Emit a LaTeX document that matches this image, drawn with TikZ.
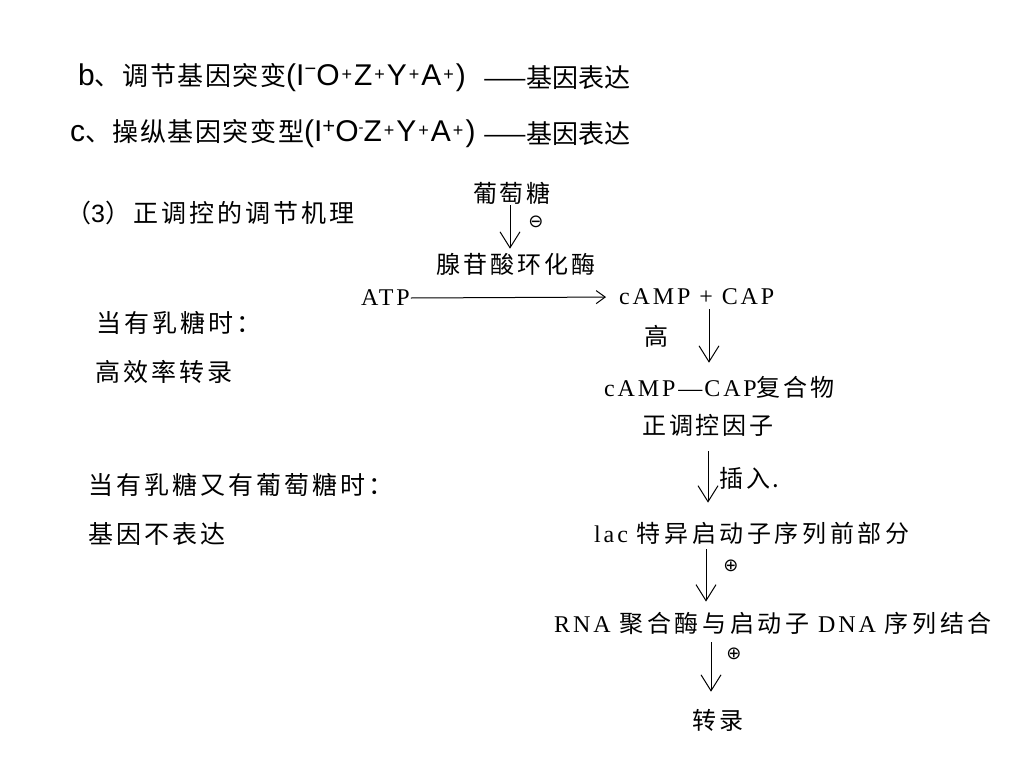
\documentclass[tikz,border=0pt]{standalone}
\usepackage{fontspec}
\setmainfont{Noto Sans CJK SC}
\newfontfamily\arial{Liberation Sans}
\newfontfamily\tms[LetterSpace=12]{Liberation Serif}
\newfontfamily\cjkh[LetterSpace=6]{Noto Sans CJK SC}
\newfontfamily\cjka[LetterSpace=12]{Noto Sans CJK SC}
\newfontfamily\cjkb[LetterSpace=15]{Noto Sans CJK SC}
\newfontfamily\cjkl[LetterSpace=12]{Noto Sans CJK SC}
\newfontfamily\dv{DejaVu Sans}
\newcommand{\sps}[1]{\hspace{2pt}\raisebox{5pt}{\arial\fontsize{18pt}{18pt}\selectfont #1}\hspace{2pt}}
\newcommand{\lat}{\arial\fontsize{30pt}{32pt}\selectfont}
\usetikzlibrary{arrows.meta}
\begin{document}
\begin{tikzpicture}[x=1pt,y=-1pt,
  hd/.style={inner sep=0pt, anchor=west, font=\cjkh\fontsize{26pt}{30pt}\selectfont},
  hde/.style={inner sep=0pt, anchor=west, font=\fontsize{26pt}{30pt}\selectfont},
  ltw/.style={inner sep=0pt, anchor=west, font=\cjkl\fontsize{25pt}{30pt}\selectfont},
  dg/.style={inner sep=1pt, font=\cjka\fontsize{24pt}{28pt}\selectfont},
  dgw/.style={inner sep=1pt, font=\cjkb\fontsize{24pt}{28pt}\selectfont},
  sym/.style={inner sep=0pt, font=\dv\fontsize{18pt}{20pt}\selectfont},
  arr/.style={line width=1pt, -{Straight Barb[length=16pt,width=20pt,line width=1pt]}},
  harr/.style={line width=1pt, -{Straight Barb[length=9pt,width=13pt,line width=1pt]}}]
\useasboundingbox[fill=white] (0,0) rectangle (1024,768);
% header
\node[hd] (b) at (78,78) {{\lat b}、调节基因突变{\lat (I\raisebox{10pt}{\fontsize{20pt}{20pt}\selectfont −}O\sps{+}Z\sps{+}Y\sps{+}A\sps{+})}};
\node[hde] (be) at (483,78) {——基因表达};
\node[hd] (c) at (70,134) {{\lat c}、操纵基因突变型{\lat (I\raisebox{8pt}{\fontsize{22pt}{22pt}\selectfont +}O\raisebox{9pt}{\fontsize{15pt}{15pt}\selectfont -}Z\sps{+}Y\sps{+}A\sps{+})}};
\node[hde] (ce) at (483,134) {——基因表达};
% left column
\node[ltw] (t3) at (66,213) {（{\arial 3}）正调控的调节机理};
\node[ltw] (l1) at (96,323) {当有乳糖时：};
\node[ltw] (l2) at (95,372) {高效率转录};
\node[ltw] (l3) at (88,485) {当有乳糖又有葡萄糖时：};
\node[ltw] (l4) at (88,534) {基因不表达};
% diagram
\node[dg] (glc) at (512,193) {葡萄糖};
\node[dg] (ac) at (516,264) {腺苷酸环化酶};
\node[dg, anchor=west] (atp) at (360,298) {\tms ATP};
\node[dg, anchor=west] (cc) at (618,297) {\tms cAMP + CAP};
\node[dg] (gao) at (656,336) {高};
\node[dg, anchor=west] (cx) at (603,387) {{\tms cAMP—\hspace{2pt}CAP}复合物};
\node[dg] (pf) at (708,425) {正调控因子};
\node[dg, anchor=west] (ins) at (718,478) {插入.};
\node[dgw, anchor=west] (lac) at (593,533) {{\tms lac} 特异启动子序列前部分};
\node[dgw, anchor=west] (rna) at (553,623) {{\tms RNA} 聚合酶与启动子 {\tms DNA} 序列结合};
\node[dg] (zl) at (718,720) {转录};
\node[sym] (m1) at (536,222) {⊖};
\node[sym] (p1) at (731,566) {⊕};
\node[sym] (p2) at (734,654) {⊕};
% arrow columns
\coordinate (k0) at (510,0);
\coordinate (k1) at (709,0);
\coordinate (k2) at (708,0);
\coordinate (k3) at (706,0);
\coordinate (k4) at (711,0);
\draw[arr, shorten >=3pt] (glc.south -| k0) -- (ac.north -| k0);
\draw[harr, shorten >=12pt] (atp.east) -- (cc.west);
\draw[arr, shorten <=3pt, shorten >=12pt] (cc.south -| k1) -- (cx.north -| k1);
\draw[arr, shorten <=14pt, shorten >=18pt] (pf.south -| k2) -- (lac.north -| k2);
\draw[arr, shorten <=4pt, shorten >=9pt] (lac.south -| k3) -- (rna.north -| k3);
\draw[arr, shorten <=7pt, shorten >=16pt] (rna.south -| k4) -- (zl.north -| k4);
\end{tikzpicture}
\end{document}
